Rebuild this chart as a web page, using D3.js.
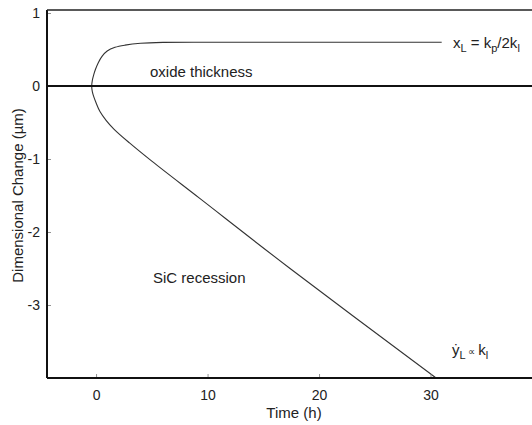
<!DOCTYPE html>
<html>
<head>
<meta charset="utf-8">
<script src="https://cdn.jsdelivr.net/npm/d3@7"></script>
<style>
  body { margin: 0; background: #fff; }
  text { font-family: "Liberation Sans", Arial, Helvetica, sans-serif; fill: #222; }
</style>
</head>
<body>
<div id="chart-area"></div>
<script>
// tick values
var xTicks = [0, 10, 20, 30];
var yTicks = [1, 0, -1, -2, -3];

// oxide thickness branch
var oxideTime  = [-0.39, -0.33, -0.2, -0.05, 0.2, 0.55, 1.0, 1.7, 2.6, 4, 6, 10, 20, 31];
var oxideThick = [0, 0.08, 0.16, 0.23, 0.32, 0.41, 0.48, 0.53, 0.56, 0.585, 0.597, 0.6, 0.6, 0.6];

// SiC recession branch
var recessTime  = [-0.39, -0.33, -0.2, 0, 0.35, 0.9, 1.6, 3, 5, 9.3, 17.4, 30.5];
var recessDepth = [0, -0.08, -0.15, -0.23, -0.35, -0.47, -0.59, -0.78, -1.03, -1.54, -2.5, -4];

var W = 532, H = 425;
var margin = { left: 47, right: 0, top: 13, bottom: 47 };

var svg = d3.select("#chart-area")
    .append("svg")
        .attr("width", W)
        .attr("height", H);

// X Scale
var x = d3.scaleLinear()
    .domain([-4.4, 39.1])
    .range([margin.left, W - margin.right]);

// Y Scale
var y = d3.scaleLinear()
    .domain([-4, 1])
    .range([H - margin.bottom, margin.top]);

// one path: top of oxide curve back to the nose, then down the recession line
var pts = [];
for (var i = oxideTime.length - 1; i >= 0; i--) pts.push([oxideTime[i], oxideThick[i]]);
for (var j = 1; j < recessTime.length; j++) pts.push([recessTime[j], recessDepth[j]]);

var line = d3.line()
    .x(function(d){ return x(d[0]); })
    .y(function(d){ return y(d[1]); })
    .curve(d3.curveCatmullRom.alpha(0.5));

svg.append("path")
    .datum(pts)
    .attr("d", line)
    .attr("fill", "none")
    .attr("stroke", "#333")
    .attr("stroke-width", 1.1);

// X Axis (ticks pointing inward)
var xAxisCall = d3.axisBottom(x)
    .tickValues(xTicks)
    .tickFormat(function(d){ return String(d); })
    .tickSize(-4)
    .tickPadding(12);
var xAxisGroup = svg.append("g")
    .attr("class", "x axis")
    .attr("transform", "translate(0," + y(-4) + ")")
    .call(xAxisCall);

// Y Axis
var yAxisCall = d3.axisLeft(y)
    .tickValues(yTicks)
    .tickFormat(function(d){ return String(d); })
    .tickSize(-4)
    .tickPadding(7);
var yAxisGroup = svg.append("g")
    .attr("class", "y axis")
    .attr("transform", "translate(" + x(-4.4) + ",0)")
    .call(yAxisCall);

svg.selectAll(".axis .domain").remove();
svg.selectAll(".axis .tick line").attr("stroke", "#777").attr("stroke-width", 0.8);
svg.selectAll(".axis text")
    .attr("font-size", "14px")
    .style("font-family", "'Liberation Sans', Arial, sans-serif")
    .attr("fill", "#222");

// frame lines
var x0 = x.range()[0], x1 = x.range()[1];
svg.append("line")
    .attr("x1", x0).attr("x2", x1)
    .attr("y1", y(-4)).attr("y2", y(-4))
    .attr("stroke", "#111").attr("stroke-width", 2);
svg.append("line")
    .attr("x1", x0).attr("x2", x0)
    .attr("y1", y(1) - 3).attr("y2", y(-4))
    .attr("stroke", "#111").attr("stroke-width", 2);
svg.append("line")
    .attr("x1", x0).attr("x2", x1)
    .attr("y1", y(1) - 3).attr("y2", y(1) - 3)
    .attr("stroke", "#222").attr("stroke-width", 1.5);
// zero line
svg.append("line")
    .attr("x1", x0).attr("x2", x1)
    .attr("y1", y(0)).attr("y2", y(0))
    .attr("stroke", "#111").attr("stroke-width", 2);

// annotations
svg.append("text")
    .attr("x", 150).attr("y", 77)
    .attr("font-size", "15px")
    .text("oxide thickness");

svg.append("text")
    .attr("x", 153).attr("y", 283)
    .attr("font-size", "15px")
    .text("SiC recession");

var t1 = svg.append("text")
    .attr("x", 453).attr("y", 48)
    .attr("font-size", "15px");
t1.append("tspan").text("x");
t1.append("tspan").attr("font-size", "11px").attr("dy", 4).text("L");
t1.append("tspan").attr("dy", -4).text(" = k");
t1.append("tspan").attr("font-size", "11px").attr("dy", 4).text("p");
t1.append("tspan").attr("dy", -4).text("/2k");
t1.append("tspan").attr("font-size", "11px").attr("dy", 4).text("l");

var t2 = svg.append("text")
    .attr("x", 452).attr("y", 355)
    .attr("font-size", "15px");
t2.append("tspan").text("\u1E8F");
t2.append("tspan").attr("font-size", "11px").attr("dy", 4).text("L");
t2.append("tspan").attr("dy", -4).attr("font-size", "10px").text(" \u221D ");
t2.append("tspan").attr("font-size", "15px").text("k");
t2.append("tspan").attr("font-size", "11px").attr("dy", 4).text("l");

// X Label
svg.append("text")
    .attr("x", 294)
    .attr("y", 418)
    .attr("font-size", "15px")
    .attr("text-anchor", "middle")
    .text("Time (h)");

// Y Label
svg.append("text")
    .attr("x", -(y(1) + y(-4)) / 2)
    .attr("y", 23)
    .attr("font-size", "15px")
    .attr("text-anchor", "middle")
    .attr("transform", "rotate(-90)")
    .text("Dimensional Change (\u00B5m)");
</script>
</body>
</html>
